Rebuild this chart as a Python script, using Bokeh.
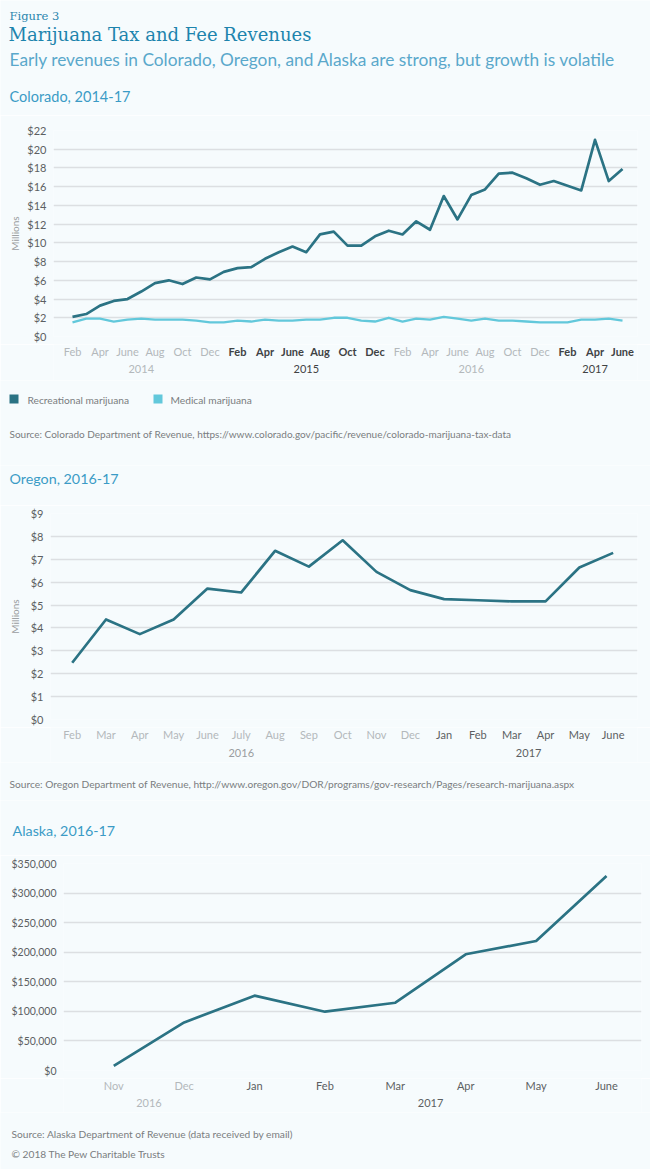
from bokeh.plotting import figure
from bokeh.models import ColumnDataSource, NumeralTickFormatter, FixedTicker, Range1d
from bokeh.layouts import column
from bokeh.core.properties import value
from bokeh.embed import file_html
from bokeh.resources import INLINE

# ---------------- data ----------------
MONTHS = ["Jan", "Feb", "Mar", "Apr", "May", "June", "July", "Aug", "Sep", "Oct", "Nov", "Dec"]

# Colorado, monthly Feb 2014 - June 2017 (millions of dollars)
co_first_month = 1        # Feb (0-based)
co_first_year = 2014
co_recreational = [2.1, 2.4, 3.3, 3.8, 4.0, 4.8, 5.7, 6.0, 5.6, 6.3, 6.1,
                   6.9, 7.3, 7.4, 8.3, 9.0, 9.6, 9.0, 10.9, 11.2, 9.7, 9.7,
                   10.7, 11.3, 10.9, 12.3, 11.4, 15.0, 12.5, 15.1, 15.7, 17.4,
                   17.5, 16.9, 16.2, 16.6, 16.1, 15.6, 21.0, 16.6, 17.9]
co_medical = [1.5, 1.9, 1.9, 1.6, 1.8, 1.9, 1.8, 1.8, 1.8, 1.7, 1.5,
              1.5, 1.7, 1.6, 1.8, 1.7, 1.7, 1.8, 1.8, 2.0, 2.0, 1.7,
              1.6, 2.0, 1.6, 1.9, 1.8, 2.1, 1.9, 1.7, 1.9, 1.7,
              1.7, 1.6, 1.5, 1.5, 1.5, 1.8, 1.8, 1.9, 1.7]
co_yticks = [0, 2, 4, 6, 8, 10, 12, 14, 16, 18, 20, 22]
co_dark_years = [2015, 2017]
co_series_names = ["Recreational marijuana", "Medical marijuana"]

# Oregon, Feb 2016 - June 2017 (millions of dollars)
or_months = ["Feb", "Mar", "Apr", "May", "June", "July", "Aug", "Sep", "Oct", "Nov", "Dec",
             "Jan", "Feb", "Mar", "Apr", "May", "June"]
or_years = [2016] * 11 + [2017] * 6
or_values = [2.48, 4.37, 3.73, 4.37, 5.72, 5.55, 7.37, 6.68, 7.83, 6.45, 5.65,
             5.26, 5.21, 5.16, 5.16, 6.64, 7.28]
or_yticks = [0, 1, 2, 3, 4, 5, 6, 7, 8, 9]

# Alaska, Nov 2016 - June 2017 (dollars)
ak_months = ["Nov", "Dec", "Jan", "Feb", "Mar", "Apr", "May", "June"]
ak_years = [2016, 2016, 2017, 2017, 2017, 2017, 2017, 2017]
ak_values = [7900, 81300, 126500, 99400, 114600, 196500, 219000, 329000]
ak_yticks = [0, 50000, 100000, 150000, 200000, 250000, 300000, 350000]

# ---------------- style ----------------
BG = "#f6fbfd"
GRID = "#dcdfe2"
REC = "#2b7384"
MED = "#62c8db"
LIGHT = "#b3b8bb"
DARK = "#3f4244"
MID = "#5c5f62"
SRC = "#7a7d80"
HEAD = "#3b9bc6"
FONT = "Lato"
SERIF = "DejaVu Serif"
W = 650


def base(width, height, xr, yr, left=0, right=0, top=0, bottom=0, axes=False):
    kw = {} if axes else dict(x_axis_location=None, y_axis_location=None)
    p = figure(width=width, height=height, x_range=xr, y_range=yr,
               output_backend="svg", toolbar_location=None,
               min_border=0, min_border_left=left, min_border_right=right,
               min_border_top=top, min_border_bottom=bottom, **kw)
    p.background_fill_color = BG
    p.border_fill_color = BG
    p.outline_line_color = None
    p.grid.visible = False
    try:
        p.frame_align = False
    except AttributeError:
        pass
    return p


def text_fig(y0, y1, xr=None, left=0, right=0, width=W):
    """A strip of the page whose y data coordinate is the page pixel row."""
    if xr is None:
        xr = Range1d(0, width)
    return base(width, y1 - y0, xr, Range1d(y1, y0), left=left, right=right)


def put_text(p, xs, ys, texts, colors, size, font=FONT, styles=None, align="left"):
    n = len(texts)
    src = ColumnDataSource(dict(x=list(xs), y=list(ys), text=list(texts),
                                color=list(colors) if isinstance(colors, list) else [colors] * n,
                                style=styles if styles else ["normal"] * n))
    p.text(x="x", y="y", text="text", source=src, text_color="color",
           text_font_style="style", text_font=value(font), text_font_size=value(f"{size}px"),
           text_align=align, text_baseline="middle")


def chart(y0, y1, ftop, fbot, left, right, xr, yr, yticks, fmt, label_size="11px",
          axis_label=None, label_standoff=0):
    p = base(W, y1 - y0, xr, yr, left=left, right=right, top=ftop - y0, bottom=y1 - fbot, axes=True)
    p.xaxis.visible = False
    p.ygrid.visible = True
    p.ygrid.grid_line_color = GRID
    p.ygrid.grid_line_width = 1.3
    p.yaxis.ticker = FixedTicker(ticks=yticks)
    p.yaxis.formatter = NumeralTickFormatter(format=fmt)
    p.yaxis.axis_line_color = None
    p.yaxis.major_tick_line_color = None
    p.yaxis.minor_tick_line_color = None
    p.yaxis.major_tick_out = 0
    p.yaxis.major_tick_in = 0
    p.yaxis.minor_tick_out = 0
    p.yaxis.major_label_standoff = 7
    p.yaxis.major_label_text_font = FONT
    p.yaxis.major_label_text_font_size = label_size
    p.yaxis.major_label_text_color = MID
    if axis_label:
        p.yaxis.axis_label = axis_label
        p.yaxis.axis_label_text_font = FONT
        p.yaxis.axis_label_text_font_size = "10px"
        p.yaxis.axis_label_text_font_style = "normal"
        p.yaxis.axis_label_text_color = "#9a9da0"
        p.yaxis.axis_label_standoff = label_standoff
    return p


def year_centres(idx, years):
    out = []
    for y in sorted(set(years)):
        members = [i for i, yy in zip(idx, years) if yy == y]
        out.append((y, sum(members) / len(members)))
    return out


pages = []

# ---------------- header ----------------
h = text_fig(0, 115)
put_text(h, [9], [15], ["Figure 3"], "#2a86ad", 11.5, font=SERIF)
put_text(h, [8], [34], ["Marijuana Tax and Fee Revenues"], "#1d84ad", 18, font=SERIF)
put_text(h, [9], [59], ["Early revenues in Colorado, Oregon, and Alaska are strong, but growth is volatile"],
         "#5aa8cb", 17.3)
put_text(h, [9], [96], ["Colorado, 2014-17"], HEAD, 14.5)
pages.append(h)

# ---------------- Colorado ----------------
co_x = list(range(len(co_recreational)))
co_xr = Range1d(-1.382, 41.09)
c = chart(115, 344, 130, 336, 53, W - 637, co_xr, Range1d(0, 22), co_yticks, "$0",
          axis_label="Millions", label_standoff=3)
c.line(co_x, co_recreational, line_color=REC, line_width=2.7, line_join="round")
c.line(co_x, co_medical, line_color=MED, line_width=2.3, line_join="round")
pages.append(c)

co_month_names = [MONTHS[(co_first_month + i) % 12] for i in co_x]
co_year_of = [co_first_year + (co_first_month + i) // 12 for i in co_x]
sel = [i for i in co_x if i % 2 == 0]
t = text_fig(344, 380, xr=co_xr, left=53, right=W - 637)
put_text(t, sel, [351] * len(sel), [co_month_names[i] for i in sel],
         [DARK if co_year_of[i] in co_dark_years else LIGHT for i in sel], 11,
         styles=["bold" if co_year_of[i] in co_dark_years else "normal" for i in sel], align="center")
yc = year_centres(sel, [co_year_of[i] for i in sel])
put_text(t, [x for _, x in yc], [368] * len(yc), [str(y) for y, _ in yc],
         [DARK if y in co_dark_years else LIGHT for y, _ in yc], 11, align="center")
pages.append(t)

lg = text_fig(380, 465)
lg.scatter([13.5, 157.5], [398.5, 398.5], marker="square", size=9, color=[REC, MED], line_color=None)
put_text(lg, [27, 170], [399, 399], co_series_names, SRC, 10.2)
put_text(lg, [9], [433], ["Source: Colorado Department of Revenue, https://www.colorado.gov/pacific/revenue/colorado-marijuana-tax-data"],
         SRC, 10)
pages.append(lg)

# ---------------- Oregon ----------------
oh = text_fig(465, 505)
put_text(oh, [9], [478], ["Oregon, 2016-17"], HEAD, 14.3)
pages.append(oh)

or_x = list(range(len(or_values)))
or_xr = Range1d(-0.642, 16.72)
o = chart(505, 727, 513, 719, 50, W - 637, or_xr, Range1d(0, 9), or_yticks, "$0",
          axis_label="Millions", label_standoff=7)
o.line(or_x, or_values, line_color=REC, line_width=2.7, line_join="round")
pages.append(o)

ot = text_fig(727, 762, xr=or_xr, left=50, right=W - 637)
put_text(ot, or_x, [734] * len(or_x), or_months,
         [MID if y == 2017 else LIGHT for y in or_years], 11, align="center")
oyc = year_centres(or_x, or_years)
put_text(ot, [x for _, x in oyc], [752] * len(oyc), [str(y) for y, _ in oyc],
         ["#9a9da0" if y == 2016 else MID for y, _ in oyc], 11, align="center")
pages.append(ot)

os_ = text_fig(762, 800)
put_text(os_, [9], [783], ["Source: Oregon Department of Revenue, http://www.oregon.gov/DOR/programs/gov-research/Pages/research-marijuana.aspx"],
         SRC, 10.2)
pages.append(os_)

# ---------------- Alaska ----------------
ah = text_fig(800, 855)
put_text(ah, [12], [830], ["Alaska, 2016-17"], HEAD, 14.3)
pages.append(ah)

ak_x = list(range(len(ak_values)))
ak_xr = Range1d(-0.714, 7.497)
a = chart(855, 1078, 863, 1070, 63, W - 641, ak_xr, Range1d(0, 350000), ak_yticks, "$0,0",
          label_size="10.5px")
a.line(ak_x, ak_values, line_color=REC, line_width=2.7, line_join="round")
pages.append(a)

at = text_fig(1078, 1112, xr=ak_xr, left=63, right=W - 641)
put_text(at, ak_x, [1085] * len(ak_x), ak_months,
         [MID if y == 2017 else LIGHT for y in ak_years], 11, align="center")
ayc = year_centres(ak_x, ak_years)
put_text(at, [x for _, x in ayc], [1102] * len(ayc), [str(y) for y, _ in ayc],
         [LIGHT if y == 2016 else MID for y, _ in ayc], 11, align="center")
pages.append(at)

asrc = text_fig(1112, 1169)
put_text(asrc, [11, 11], [1133, 1153],
         ["Source: Alaska Department of Revenue (data received by email)",
          "\u00a9 2018 The Pew Charitable Trusts"], SRC, 10.2)
pages.append(asrc)

layout = column(*pages, spacing=0)
open("out.html", "w").write(file_html(layout, INLINE))
